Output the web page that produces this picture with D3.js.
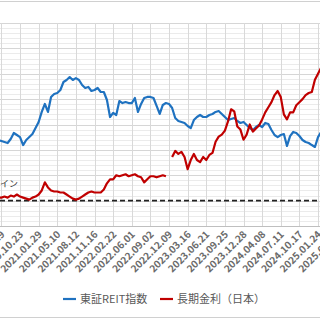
<!DOCTYPE html>
<html>
<head>
<meta charset="utf-8">
<script src="https://cdn.jsdelivr.net/npm/d3@7"></script>
<style>
  body { margin: 0; background: #fff; }
  svg { display: block; font-family: "Noto Sans CJK JP", "Noto Sans", sans-serif; }
</style>
</head>
<body>
<div id="chart"></div>
<script>
// tick labels (category axis, every ~66 trading days)
var tickLabels = ["2020.07.29", "2020.10.23", "2021.01.29", "2021.05.10", "2021.08.12",
  "2021.11.16", "2022.02.22", "2022.06.01", "2022.09.02", "2022.12.09", "2023.03.16",
  "2023.06.21", "2023.09.25", "2023.12.28", "2024.04.08", "2024.07.11", "2024.10.17",
  "2025.01.24", "2025.05.01"];

// samples: 6 per tick interval, first sample 1/6 interval before first tick
var reit = [1678, 1670, 1662, 1654, 1686, 1733, 1717, 1701, 1638, 1678, 1701, 1725,
  1772, 1820, 1899, 1962, 1899, 2017, 2040, 2048, 2072, 2135, 2151, 2174, 2151, 2166,
  2151, 2111, 2088, 2096, 2064, 2072, 2088, 2056, 2056, 1993, 1859, 1891, 1875, 1985,
  1969, 1977, 1969, 1969, 2009, 1899, 1962, 2009, 2017, 2017, 2009, 1946, 1883, 1954,
  1969, 1962, 1930, 1851, 1828, 1820, 1812, 1788, 1772, 1835, 1859, 1875, 1859, 1859,
  1875, 1883, 1899, 1906, 1883, 1859, 1835, 1843, 1851, 1828, 1812, 1820, 1796, 1772,
  1757, 1780, 1796, 1780, 1812, 1804, 1757, 1717, 1701, 1717, 1725, 1631, 1709, 1741,
  1733, 1709, 1678, 1662, 1654, 1638, 1623, 1701, 1741];

var jgb10 = [0.03, 0.03, 0.04, 0.03, 0.05, 0.04, 0.06, 0.04, 0.03, 0.02, 0.01, 0.03,
  0.04, 0.06, 0.10, 0.18, 0.13, 0.10, 0.09, 0.09, 0.08, 0.08, 0.06, 0.04, 0.02, 0.01,
  0.02, 0.04, 0.06, 0.08, 0.09, 0.08, 0.08, 0.08, 0.11, 0.17, 0.21, 0.21, 0.25, 0.24,
  0.25, 0.26, 0.24, 0.25, 0.26, 0.24, 0.23, 0.18, 0.21, 0.24, 0.24, 0.23, 0.24, 0.25,
  0.24, null, 0.43, 0.49, 0.46, 0.48, 0.43, 0.31, 0.40, 0.46, 0.40, 0.38, 0.43, 0.40,
  0.45, 0.47, 0.58, 0.63, 0.65, 0.69, 0.78, 0.90, 0.88, 0.73, 0.70, 0.60, 0.65, 0.75,
  0.68, 0.71, 0.74, 0.80, 0.87, 0.92, 0.97, 1.04, 1.08, 1.02, 0.85, 0.80, 0.87, 0.87,
  0.94, 0.97, 1.00, 1.04, 1.06, 1.07, 1.19, 1.25, 1.31];

var seriesNames = ["東証REIT指数", "長期金利（日本）"];
var seriesColors = ["#1f72c0", "#c00000"];

var width = 320, height = 320;
var plotTop = 23, plotBottom = 226;

var svg = d3.select("#chart").append("svg")
    .attr("width", width)
    .attr("height", height)

// frame lines (chart area is cropped on both sides)
svg.append("line").attr("x1", 0).attr("x2", width).attr("y1", 1.5).attr("y2", 1.5)
    .attr("stroke", "#d0d0d0")
svg.append("line").attr("x1", 0).attr("x2", width).attr("y1", 317.5).attr("y2", 317.5)
    .attr("stroke", "#d0d0d0")

var x = d3.scaleLinear().domain([0, 17]).range([1.4, 1.4 + 17 * 18.625]);
var yL = d3.scaleLinear().domain([1000, 2600]).range([plotBottom, plotTop]);
var yR = d3.scaleLinear().domain([-0.25, 1.75]).range([plotBottom, plotTop]);

// minor + major horizontal grid
var grid = svg.append("g").attr("class", "grid")
grid.selectAll(".minor")
    .data(d3.range(-0.25, 1.7501, 0.05))
    .enter().append("line")
    .attr("x1", 0).attr("x2", width)
    .attr("y1", d => Math.round(yR(d)) + 0.5)
    .attr("y2", d => Math.round(yR(d)) + 0.5)
    .attr("stroke", "#ebebeb")
grid.selectAll(".major")
    .data(d3.range(-0.25, 1.7501, 0.25))
    .enter().append("line")
    .attr("x1", 0).attr("x2", width)
    .attr("y1", d => Math.round(yR(d)) + 0.5)
    .attr("y2", d => Math.round(yR(d)) + 0.5)
    .attr("stroke", "#d6d6d6")
grid.selectAll(".vert")
    .data(tickLabels)
    .enter().append("line")
    .attr("x1", (d, i) => Math.round(x(i)) + 0.5)
    .attr("x2", (d, i) => Math.round(x(i)) + 0.5)
    .attr("y1", plotTop).attr("y2", plotBottom)
    .attr("stroke", "#d9d9d9")

// bottom axis
var xAxis = svg.append("g").attr("transform", "translate(0," + plotBottom + ")")
xAxis.append("line").attr("x1", 0).attr("x2", width).attr("y1", 0.5).attr("y2", 0.5)
    .attr("stroke", "#bfbfbf")
xAxis.selectAll("text")
    .data(tickLabels)
    .enter().append("text")
    .text(d => d)
    .attr("text-anchor", "end")
    .attr("font-size", 10)
    .attr("font-weight", "bold")
    .attr("fill", "#6b6b6b")
    .attr("transform", (d, i) => "translate(" + (x(i) + 4) + ",9) rotate(-45)")

// zero line for yield
svg.append("line")
    .attr("x1", 0).attr("x2", width)
    .attr("y1", yR(0)).attr("y2", yR(0))
    .attr("stroke", "#222")
    .attr("stroke-width", 1.6)
    .attr("stroke-dasharray", "5,3")
svg.append("text")
    .attr("x", 18).attr("y", 187)
    .attr("text-anchor", "end")
    .attr("font-size", 9)
    .attr("fill", "#333")
    .text("ゼロライン")

var tOf = i => (i - 1) / 6;

var reitLine = d3.line()
    .x((d, i) => x(tOf(i)))
    .y(d => yL(d))
var jgbLine = d3.line()
    .defined(d => d !== null)
    .x((d, i) => x(tOf(i)))
    .y(d => yR(d))

svg.append("path")
    .attr("d", reitLine(reit))
    .attr("fill", "none")
    .attr("stroke", seriesColors[0])
    .attr("stroke-width", 2.2)
    .attr("stroke-linejoin", "round")
svg.append("path")
    .attr("d", jgbLine(jgb10))
    .attr("fill", "none")
    .attr("stroke", seriesColors[1])
    .attr("stroke-width", 2.2)
    .attr("stroke-linejoin", "round")

// legend
var legend = svg.append("g").attr("transform", "translate(63,299)")
var item = legend.selectAll("g")
    .data(seriesNames)
    .enter().append("g")
    .attr("transform", (d, i) => "translate(" + i * 97 + ",0)")
item.append("line")
    .attr("x1", 0).attr("x2", 13)
    .attr("stroke", (d, i) => seriesColors[i])
    .attr("stroke-width", 2.2)
item.append("text")
    .text(d => d)
    .attr("x", 17)
    .attr("dy", "0.35em")
    .attr("font-size", 11)
    .attr("fill", "#595959")
</script>
</body>
</html>
